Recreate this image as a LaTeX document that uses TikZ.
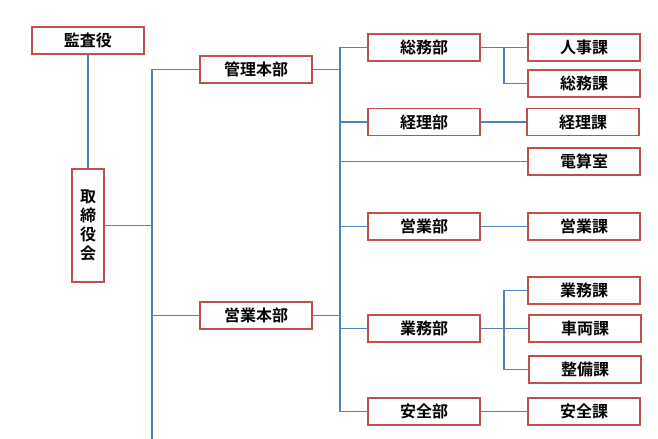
\documentclass[tikz,border=0pt]{standalone}
\usepackage{fontspec}
\newfontfamily\jp{Noto Sans CJK JP}[BoldFont={Noto Sans CJK JP Bold}]
\definecolor{boxred}{HTML}{C0504D}
\definecolor{lineblue}{HTML}{4F81BD}
\begin{document}
\begin{tikzpicture}[x=.75pt, y=-.75pt,
  box/.style={draw=boxred, line width=1.2pt, fill=white, minimum width=84pt,
    minimum height=20.25pt, inner sep=0pt, font=\jp\bfseries\fontsize{12}{14.25}\selectfont},
  link/.style={draw=lineblue, line width=.8pt}]
\useasboundingbox (0,0) rectangle (658,439);
% board and top divisions
\node[box] (kansa) at (88,40.5) {監査役};
\node[box, minimum width=24pt, minimum height=84.75pt, align=center] (torishimari) at (88,225.5) {取\\締\\役\\会};
\node[box] (kanri) at (256,69.5) {管理本部};
\node[box] (eigyohon) at (256,315.5) {営業本部};
% departments
\node[box] (soumubu) at (424,47.5) {総務部};
\node[box] (keiribu) at (424,122) {経理部};
\node[box] (eigyobu) at (424,226.5) {営業部};
\node[box] (gyomubu) at (424,328.5) {業務部};
\node[box] (anzenbu) at (424,411.5) {安全部};
% sections
\node[box] (jinji) at (584,47.5) {人事課};
\node[box] (soumuka) at (584,83.5) {総務課};
\node[box] (keirika) at (583,122) {経理課};
\node[box] (densan) at (584,161.5) {電算室};
\node[box] (eigyoka) at (584,226.5) {営業課};
\node[box] (gyomuka) at (584,290.5) {業務課};
\node[box] (sharyo) at (585,328.5) {車両課};
\node[box] (seibi) at (585,369.5) {整備課};
\node[box] (anzenka) at (584,411.5) {安全課};
% connectors
\coordinate (trunkA) at (152,439);
\coordinate (trunkB) at (340,0);
\coordinate (forkA) at (504,0);
\draw[link] (kansa) -- (torishimari);
\draw[link] (kanri.west) -| (trunkA);
\draw[link] (torishimari.east) -- (torishimari.east -| trunkA);
\draw[link] (eigyohon.west) -- (eigyohon.west -| trunkA);
\draw[link] (soumubu.west) -| (anzenbu.west -| trunkB) -- (anzenbu.west);
\foreach \n in {kanri, eigyohon}
{
    \draw[link] (\n.east) -- (\n.east -| trunkB);
}
\foreach \n in {keiribu, eigyobu, gyomubu, densan}
{
    \draw[link] (\n.west) -- (\n.west -| trunkB);
}
\draw[link] (soumubu.east) -- (jinji.west);
\draw[link] (soumubu.east -| forkA) |- (soumuka.west);
\draw[link] (keiribu.east) -- (keirika.west);
\draw[link] (eigyobu.east) -- (eigyoka.west);
\draw[link] (gyomubu.east) -- (sharyo.west);
\draw[link] (gyomuka.west) -| (seibi.west -| forkA) -- (seibi.west);
\draw[link] (anzenbu.east) -- (anzenka.west);
\end{tikzpicture}
\end{document}
